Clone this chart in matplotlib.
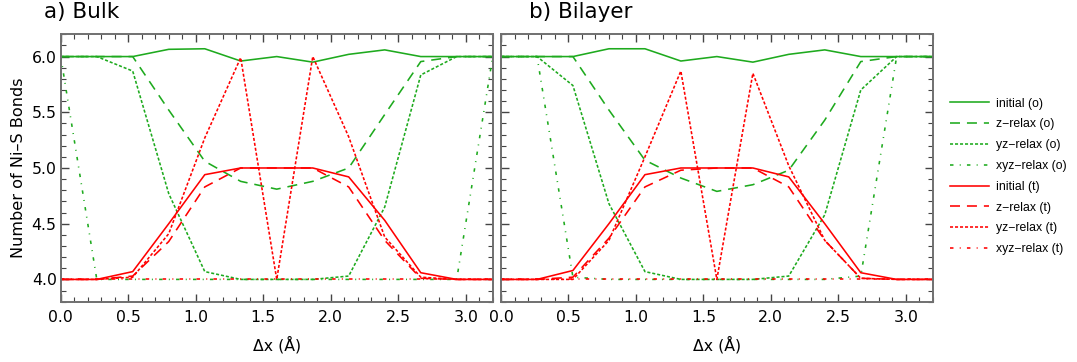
"""
Number of Ni-S bonds vs. displacement, bulk and bilayer.
"""

import matplotlib
matplotlib.use('Agg')
import matplotlib.pyplot as plt
from matplotlib.ticker import MultipleLocator

# displacement in Angstrom
dx = [0.0, 0.267, 0.533, 0.8, 1.067, 1.333, 1.6, 1.867, 2.133, 2.4, 2.667, 2.933, 3.2]

# bulk
bulk_init_o = [6.0, 6.0, 6.0, 6.065, 6.07, 5.96, 6.0, 5.95, 6.02, 6.06, 6.0, 6.0, 6.0]
bulk_z_o = [6.0, 6.0, 6.0, 5.52, 5.06, 4.88, 4.81, 4.88, 5.0, 5.48, 5.955, 6.0, 6.0]
bulk_yz_o = [6.0, 6.0, 5.87, 4.77, 4.07, 4.0, 4.0, 4.0, 4.03, 4.65, 5.835, 6.0, 6.0]
bulk_xyz_o = [6.0, 4.0, 4.0, 4.0, 4.0, 4.0, 4.0, 4.0, 4.0, 4.0, 4.0, 4.0, 6.0]
bulk_init_t = [4.0, 4.0, 4.07, 4.5, 4.94, 5.0, 5.0, 5.0, 4.92, 4.53, 4.06, 4.0, 4.0]
bulk_z_t = [4.0, 4.0, 4.03, 4.34, 4.83, 5.0, 5.0, 5.0, 4.83, 4.35, 4.01, 4.0, 4.0]
bulk_yz_t = [4.0, 4.0, 4.02, 4.41, 5.27, 5.99, 4.0, 6.0, 5.28, 4.38, 4.02, 4.0, 4.0]
bulk_xyz_t = [4.0, 4.0, 4.0, 4.0, 4.0, 4.0, 4.0, 4.0, 4.0, 4.0, 4.0, 4.0, 4.0]

# bilayer
bil_init_o = [6.0, 6.0, 6.0, 6.07, 6.07, 5.96, 6.0, 5.95, 6.02, 6.06, 6.0, 6.0, 6.0]
bil_z_o = [6.0, 6.0, 6.0, 5.52, 5.07, 4.91, 4.79, 4.85, 4.98, 5.43, 5.955, 6.0, 6.0]
bil_yz_o = [6.0, 6.0, 5.74, 4.68, 4.07, 4.0, 4.0, 4.0, 4.03, 4.58, 5.7, 6.0, 6.0]
bil_xyz_o = [6.0, 6.0, 4.02, 4.0, 4.0, 4.0, 4.0, 4.0, 4.0, 4.0, 4.03, 6.0, 6.0]
bil_init_t = [4.0, 4.0, 4.08, 4.5, 4.94, 5.0, 5.0, 5.0, 4.92, 4.5, 4.06, 4.0, 4.0]
bil_z_t = [4.0, 4.0, 4.02, 4.37, 4.83, 4.98, 5.0, 5.0, 4.83, 4.35, 4.01, 4.0, 4.0]
bil_yz_t = [4.0, 4.0, 4.0, 4.35, 5.1, 5.87, 4.0, 5.85, 5.02, 4.35, 4.01, 4.0, 4.0]
bil_xyz_t = [4.0, 4.0, 4.0, 4.0, 4.0, 4.0, 4.0, 4.0, 4.0, 4.0, 4.0, 4.0, 4.0]

labels = ['initial (o)', 'z\u2212relax (o)', 'yz\u2212relax (o)', 'xyz\u2212relax (o)',
          'initial (t)', 'z\u2212relax (t)', 'yz\u2212relax (t)', 'xyz\u2212relax (t)']

green = '#1eaa1e'
red = '#ff0000'
styles = ['-', (0, (7.2, 5.0)), (0, (2.2, 1.4)), (0, (2.5, 4.5, 0.7, 4.5))]

plt.rcParams['lines.scale_dashes'] = False
plt.rcParams['font.family'] = 'DejaVu Sans'

fig = plt.figure(figsize=(10.77, 3.62), dpi=100)
ax1 = fig.add_axes([0.0564, 0.1666, 0.4011, 0.7387])
ax2 = fig.add_axes([0.4652, 0.1666, 0.4008, 0.7387])

panels = [
    (ax1, [bulk_init_o, bulk_z_o, bulk_yz_o, bulk_xyz_o,
           bulk_init_t, bulk_z_t, bulk_yz_t, bulk_xyz_t]),
    (ax2, [bil_init_o, bil_z_o, bil_yz_o, bil_xyz_o,
           bil_init_t, bil_z_t, bil_yz_t, bil_xyz_t]),
]

handles = []
for ax, series in panels:
    handles = []
    for i, ys in enumerate(series):
        col = green if i < 4 else red
        ls = styles[i % 4]
        h, = ax.plot(dx, ys, color=col, linestyle=ls, lw=1.15, label=labels[i])
        handles.append(h)

    ax.set_xlim(0, 3.2)
    ax.set_ylim(3.8, 6.2)
    ax.xaxis.set_major_locator(MultipleLocator(0.5))
    ax.xaxis.set_minor_locator(MultipleLocator(0.1))
    ax.yaxis.set_major_locator(MultipleLocator(0.5))
    ax.yaxis.set_minor_locator(MultipleLocator(0.1))
    ax.tick_params(which='both', direction='in', top=True, right=True,
                   color='#444444', labelsize=11.3)
    ax.tick_params(axis='x', pad=6)
    ax.tick_params(axis='y', pad=3)
    ax.tick_params(which='major', length=6, width=1.0)
    ax.tick_params(which='minor', length=3.5, width=0.8)
    ax.xaxis.set_major_formatter(plt.FormatStrFormatter('%.1f'))
    ax.yaxis.set_major_formatter(plt.FormatStrFormatter('%.1f'))
    for sp in ax.spines.values():
        sp.set_color('#707070')
        sp.set_linewidth(1.4)
    ax.set_xlabel('\u0394x (\u00c5)', fontsize=11.3, labelpad=8)

ax1.set_ylabel('Number of Ni\u2013S Bonds', fontsize=11.6, labelpad=4)
ax2.tick_params(labelleft=False)

fig.text(0.041, 0.949, 'a) Bulk', fontsize=15.5, va='baseline', ha='left')
fig.text(0.491, 0.949, 'b) Bilayer', fontsize=15.5, va='baseline', ha='left')

fig.legend(handles, labels, loc='center left', bbox_to_anchor=(0.882, 0.5127),
           frameon=False, borderpad=0, borderaxespad=0, handlelength=3.2,
           handletextpad=0.55, labelspacing=0.72,
           prop={'family': 'Liberation Sans', 'size': 8.8})

fig.savefig('out.png', dpi=100)
